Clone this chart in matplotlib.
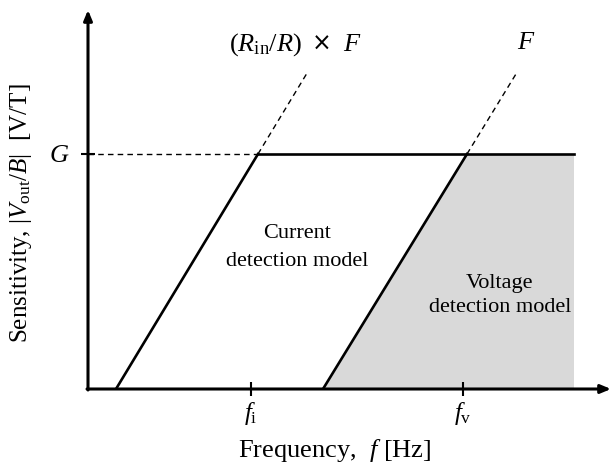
import matplotlib
matplotlib.use("Agg")
import matplotlib.pyplot as plt

plt.rcParams['font.family'] = ['Liberation Serif', 'DejaVu Serif']
plt.rcParams['mathtext.fontset'] = 'custom'
plt.rcParams['mathtext.rm'] = 'Liberation Serif'
plt.rcParams['mathtext.it'] = 'Liberation Serif:italic'
plt.rcParams['mathtext.bf'] = 'Liberation Serif:bold'

# schematic values (arbitrary units)
x_max, y_max = 10.46, 7.58
G = 4.7
f_i, f_v = 3.26, 7.5
f_end = 9.72

# current detection model: rising edge, then dashed extension
cur_x = [0.56, 3.4]
cur_y = [0.0, G]
cur_ext_x = [3.4, 4.4]
cur_ext_y = [G, 6.35]

# voltage detection model
volt_x = [4.7, 7.58]
volt_y = [0.0, G]
volt_ext_x = [7.58, 8.59]
volt_ext_y = [G, 6.35]

tick_pos = [f_i, f_v]
tick_labels = [r'$f_{\mathrm{i}}$', r'$f_{\mathrm{v}}$']

W, H = 611, 467
fig = plt.figure(figsize=(W / 100, H / 100), dpi=100)
ax = fig.add_axes([88 / W, (H - 389) / H, (W - 88) / W, (389 - 10) / H])
ax.set_xlim(0, x_max)
ax.set_ylim(0, y_max)
for s in ax.spines.values():
    s.set_visible(False)

# shaded voltage region
ax.fill([volt_x[0], volt_x[1], f_end, f_end], [0, G, G, 0],
        color='#d9d9d9', lw=0, zorder=1)

ax.plot(cur_x, cur_y, color='k', lw=1.9, zorder=3)
ax.plot(volt_x, volt_y, color='k', lw=1.9, zorder=3)
ax.plot(cur_ext_x, cur_ext_y, color='k', lw=1.0, ls=(0, (4, 3)), zorder=3)
ax.plot(volt_ext_x, volt_ext_y, color='k', lw=1.0, ls=(0, (4, 3)), zorder=3)
ax.plot([cur_x[1], f_end], [G, G], color='k', lw=1.9, zorder=3)
ax.plot([0, cur_x[1]], [G, G], color='k', lw=1.0, ls=(0, (4, 3)), zorder=3)

# axes with arrow heads
arrow = dict(arrowstyle='-|>,head_length=0.6,head_width=0.25', lw=2.2,
             color='k', shrinkA=0, shrinkB=0)
ax.annotate('', xy=(x_max, 0), xytext=(-0.02, 0), arrowprops=arrow,
            annotation_clip=False, zorder=4)
ax.annotate('', xy=(0, y_max), xytext=(0, -0.02), arrowprops=arrow,
            annotation_clip=False, zorder=4)

ax.set_xticks(tick_pos)
ax.set_xticklabels(tick_labels, fontsize=18)
ax.set_yticks([G])
ax.set_yticklabels([r'$G$'], fontsize=19)
ax.tick_params(axis='both', direction='inout', length=10, width=1.5)
ax.tick_params(axis='x', pad=3)
ax.tick_params(axis='y', pad=8)

# line labels
ax.text(4.28, 6.88, r'$(R_{\mathrm{in}}/R)$', fontsize=19,
        ha='right', va='center')
ax.text(4.68, 6.9, '×', fontsize=17, ha='center', va='center',
        family='DejaVu Sans')
ax.text(5.1, 6.88, r'$F$', fontsize=19, ha='left', va='center')
ax.text(8.76, 6.92, r'$F$', fontsize=19, ha='center', va='center')

ax.text(4.18, 2.83, 'Current\ndetection model', fontsize=16,
        ha='center', va='center', linespacing=1.65)
ax.text(8.24, 1.87, 'Voltage\ndetection model', fontsize=16,
        ha='center', va='center', linespacing=1.35)

fig.text(335 / W, 1 - 450 / H, r'Frequency,  $f$ [Hz]', fontsize=19,
         ha='center', va='center')
fig.text(21 / W, 1 - 213 / H, r'Sensitivity, $|V_{\mathrm{out}}/B|$  [V/T]',
         fontsize=18, ha='center', va='center', rotation=90)

fig.savefig('out.png', dpi=100)
